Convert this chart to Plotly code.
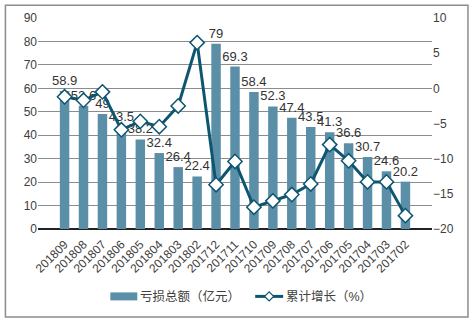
import plotly.graph_objects as go

categories = ["201809", "201808", "201807", "201806", "201805", "201804", "201803", "201802",
              "201712", "201711", "201710", "201709", "201708", "201707", "201706", "201705",
              "201704", "201703", "201702"]
loss_total = [58.9, 52.6, 49, 43.5, 38.2, 32.4, 26.4, 22.4, 79, 69.3, 58.4, 52.3, 47.4, 43.5,
              41.3, 36.6, 30.7, 24.6, 20.2]
cum_growth = [-1.2, -1.7, -0.5, -5.9, -4.7, -5.45, -2.5, 6.5, -13.7, -10.4, -16.9, -16.0, -15.1,
              -13.6, -8.0, -10.3, -13.3, -13.3, -18.1]
bar_name = "亏损总额（亿元）"
line_name = "累计增长（%）"

bar_color = "#5B8FA8"
line_color = "#0E5670"
font_fam = "Liberation Sans, Arial, Noto Sans CJK SC, sans-serif"

# plot area in pixels (for converting decoration positions to paper coords)
PX0, PW, PY0, PH = 37.6, 394.4, 229.0, 211.3
def px(x):
    return (x - PX0) / PW
def py(y):
    return (PY0 - y) / PH

fig = go.Figure()
fig.add_trace(go.Bar(
    x=categories, y=loss_total, name=bar_name,
    marker=dict(color=bar_color, line=dict(width=0)), width=0.5,
    text=[f"{v:g}" for v in loss_total], textposition="outside", constraintext="none",
    textfont=dict(size=13, color="#333333"), cliponaxis=False, showlegend=False,
))
fig.add_trace(go.Scatter(
    x=categories, y=cum_growth, name=line_name, yaxis="y2", mode="lines+markers",
    line=dict(color=line_color, width=3),
    marker=dict(symbol="diamond", size=11, color="white", line=dict(color=line_color, width=1.5)),
    cliponaxis=False, showlegend=False,
))

ly = 296.5
d = 4.5
shapes = [
    dict(type="rect", xref="paper", yref="paper",
         x0=px(5), x1=px(468), y0=py(317), y1=py(5),
         line=dict(color="#8c8c8c", width=1.5), layer="below"),
    # legend swatch: bars
    dict(type="rect", xref="paper", yref="paper",
         x0=px(110), x1=px(137), y0=py(300.5), y1=py(292.5),
         fillcolor=bar_color, line=dict(width=0)),
    # legend swatch: line
    dict(type="line", xref="paper", yref="paper",
         x0=px(255), x1=px(283), y0=py(ly), y1=py(ly),
         line=dict(color=line_color, width=3)),
    dict(type="path", xref="paper", yref="paper",
         path=(f"M {px(269-d)},{py(ly)} L {px(269)},{py(ly-d)} L {px(269+d)},{py(ly)} "
               f"L {px(269)},{py(ly+d)} Z"),
         fillcolor="white", line=dict(color=line_color, width=1.2)),
]
annotations = [
    dict(xref="paper", yref="paper", x=px(138), y=py(ly), xanchor="left", yanchor="middle",
         text=bar_name, showarrow=False, font=dict(size=12.5, color="#404040")),
    dict(xref="paper", yref="paper", x=px(284), y=py(ly), xanchor="left", yanchor="middle",
         text=line_name, showarrow=False, font=dict(size=12.5, color="#404040")),
]

fig.update_layout(
    width=473, height=321,
    margin=dict(l=38, r=41, t=18, b=92),
    paper_bgcolor="white", plot_bgcolor="white",
    font=dict(family=font_fam, size=12, color="#404040"),
    showlegend=False,
    xaxis=dict(type="category", tickangle=-45, tickfont=dict(size=12), showgrid=False,
               showline=False, ticks="", zeroline=False, ticklabelstandoff=5),
    yaxis=dict(range=[0, 90], dtick=10, showgrid=True, gridcolor="#8c8c8c", gridwidth=1,
               zeroline=True, zerolinecolor="#222222", zerolinewidth=1.5, showline=False,
               tickfont=dict(size=12), ticks=""),
    yaxis2=dict(range=[-20, 10], dtick=5, overlaying="y", side="right", showgrid=False,
                zeroline=False, showline=False, tickfont=dict(size=12), ticks=""),
    shapes=shapes,
    annotations=annotations,
)

fig.write_html("out.html")
